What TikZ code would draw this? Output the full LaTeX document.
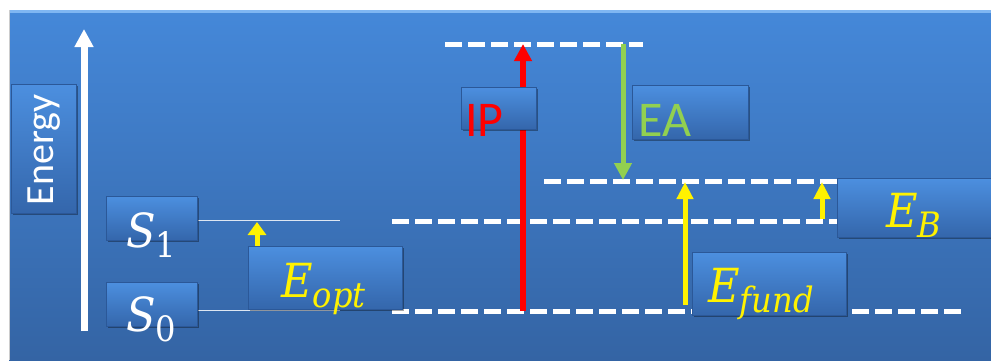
\documentclass[tikz,border=0pt]{standalone}
\usepackage{fontspec}
\newfontfamily\calib{Carlito}
\newfontfamily\mathser[FakeStretch=0.92]{DejaVu Serif}
\usetikzlibrary{arrows.meta,shadows}
\definecolor{bgtop}{HTML}{4588D9}
\definecolor{bgbot}{HTML}{3464A4}
\definecolor{boxtop}{HTML}{4C8FDF}
\definecolor{boxbot}{HTML}{3466AB}
\definecolor{boxedge}{HTML}{2B5898}
\definecolor{boxhi}{HTML}{80B6F2}
\definecolor{eagreen}{HTML}{92D050}
\definecolor{thinline}{HTML}{DDE6F2}
\newcommand\lvlsym[3]{\mathser{\itshape #1}\raisebox{-10pt}{\mathser\fontsize{35}{35}\selectfont#2#3}}
\tikzset{
  lvlbox/.style={rectangle, inner sep=0pt, anchor=north west, draw=boxedge, line width=0.8pt,
    top color=boxtop, bottom color=boxbot,
    drop shadow={shadow xshift=1.2pt, shadow yshift=-1.5pt, opacity=.35, fill=black},
    path picture={\draw[boxhi, line width=1.6pt] (path picture bounding box.north west) -- (path picture bounding box.north east);}},
  dashlvl/.style={white, line width=5pt, dash pattern=on 17pt off 6pt},
  thinlvl/.style={thinline, line width=0.9pt},
  mathlbl/.style={inner sep=0pt, anchor=base west, font=\fontsize{47}{47}\selectfont},
  sanslbl/.style={inner sep=0pt, anchor=base west, font=\calib\fontsize{50}{50}\selectfont},
}
\begin{document}
\begin{tikzpicture}[x=1pt, y=-1pt]
\useasboundingbox (0,0) rectangle (991,360);
% background
\shade[top color=bgtop, bottom color=bgbot] (9,10) rectangle (991,360);
\fill[boxhi] (9,10) rectangle (991,13);
\draw[gray!40, line width=0.6pt] (9,10) -- (9,360);

% coordinates
\coordinate (axisBot) at (84,331);
\coordinate (axisTop) at (84,29);
\coordinate (s1L) at (198,220); \coordinate (s1R) at (340,220);
\coordinate (s0L) at (198,310); \coordinate (s0R) at (340,310);
\coordinate (optBot) at (257,310); \coordinate (optTop) at (257,222);
\coordinate (topL) at (445,44); \coordinate (topR) at (643,44);
\coordinate (eaL) at (544,181); \coordinate (eaR) at (837,181);
\coordinate (midL) at (392,221); \coordinate (midR) at (837,221);
\coordinate (botL) at (392,311); \coordinate (botR) at (964,311);
\coordinate (ipBot) at (523,311); \coordinate (ipTop) at (523,44);
\coordinate (eaTop) at (623,44); \coordinate (eaBot) at (623,180);
\coordinate (fundBot) at (685,305); \coordinate (fundTop) at (685,182);
\coordinate (ebBot) at (822,219); \coordinate (ebTop) at (822,182);

% energy axis
\draw[white, line width=7pt, -{Triangle[width=18pt,length=18pt]}] (axisBot) -- (axisTop);

% levels
\draw[thinlvl] (s1L) -- (s1R);
\draw[thinlvl] (s0L) -- (s0R);
\draw[dashlvl] (topL) -- (topR);
\draw[dashlvl] (eaL) -- (eaR);
\draw[dashlvl] (midL) -- (midR);
\draw[dashlvl] (botL) -- (botR);

% arrows
\draw[yellow, line width=5pt, -{Triangle[width=18pt,length=13pt]}] (optBot) -- (optTop);
\draw[red, line width=6pt, -{Triangle[width=17pt,length=17pt]}] (ipBot) -- (ipTop);
\draw[eagreen, line width=5pt, -{Triangle[width=17pt,length=17pt]}] (eaTop) -- (eaBot);
\draw[yellow, line width=5pt, -{Triangle[width=16pt,length=17pt]}] (fundBot) -- (fundTop);
\draw[yellow, line width=5pt, -{Triangle[width=16pt,length=17pt]}] (ebBot) -- (ebTop);

% boxes
\node[lvlbox, minimum width=65pt, minimum height=129pt] (energyBox) at (11,84) {};
\node[lvlbox, minimum width=91pt, minimum height=44pt] (s1Box) at (106,196) {};
\node[lvlbox, minimum width=91pt, minimum height=44pt] (s0Box) at (106,282) {};
\node[lvlbox, minimum width=154pt, minimum height=63pt] (eoptBox) at (248,246) {};
\node[lvlbox, minimum width=75pt, minimum height=42pt] (ipBox) at (461,87) {};
\node[lvlbox, minimum width=116pt, minimum height=54pt] (eaBox) at (632,85) {};
\node[lvlbox, minimum width=154pt, minimum height=63pt] (efundBox) at (692,252) {};
\node[lvlbox, minimum width=156pt, minimum height=59pt] (ebBox) at (837,178) {};

% labels
\node[inner sep=0pt, anchor=base, rotate=90, white, font=\calib\fontsize{40}{40}\selectfont] (energyTxt) at (53,150) {Energy};
\node[mathlbl, white] (s1Txt) at (126,247) {\lvlsym{S}{\upshape}{1}};
\node[mathlbl, white] (s0Txt) at (126,331) {\lvlsym{S}{\upshape}{0}};
\node[mathlbl, yellow] (eoptTxt) at (281,297) {\lvlsym{E}{\itshape}{opt}};
\node[sanslbl, red] (ipTxt) at (465,136) {IP};
\node[sanslbl, eagreen] (eaTxt) at (638,136) {EA};
\node[mathlbl, yellow] (efundTxt) at (708,302) {\lvlsym{E}{\itshape}{fund}};
\node[mathlbl, yellow] (ebTxt) at (886,227) {\lvlsym{E}{\itshape}{B}};
\end{tikzpicture}
\end{document}
